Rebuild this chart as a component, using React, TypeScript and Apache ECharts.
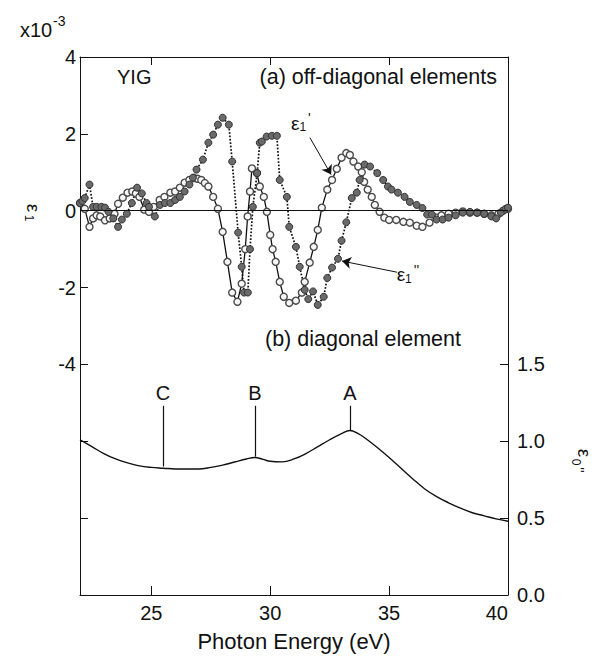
import React, { useEffect, useRef } from "react";
import * as echarts from "echarts";

// ---------- data ----------
const diagE = [22.0, 22.5, 23.0, 23.5, 24.0, 24.5, 25.0, 25.5, 26.0, 26.5, 27.0, 27.5, 28.0, 28.5, 29.0, 29.35, 29.7, 30.0, 30.5, 31.0, 31.5, 32.0, 32.5, 33.0, 33.35, 33.7, 34.0, 34.5, 35.0, 35.5, 36.0, 36.5, 37.0, 37.5, 38.0, 38.5, 39.0, 39.5, 40.0];
const diagV = [1.01, 0.965, 0.92, 0.885, 0.86, 0.84, 0.83, 0.825, 0.82, 0.82, 0.82, 0.83, 0.845, 0.865, 0.885, 0.895, 0.882, 0.87, 0.866, 0.885, 0.92, 0.965, 1.01, 1.05, 1.07, 1.05, 1.02, 0.96, 0.895, 0.825, 0.755, 0.69, 0.64, 0.6, 0.565, 0.535, 0.515, 0.495, 0.48];

const e1pE = [22.0, 22.2, 22.4, 22.55, 22.7, 22.85, 23.05, 23.25, 23.45, 23.6, 23.8, 24.0, 24.2, 24.35, 24.5, 24.7, 24.9, 25.1, 25.35, 25.55, 25.8, 26.0, 26.2, 26.4, 26.6, 26.8, 26.95, 27.1, 27.25, 27.4, 27.6, 27.8, 28.0, 28.2, 28.4, 28.62, 28.8, 28.95, 29.05, 29.15, 29.23, 29.44, 29.56, 29.73, 29.86, 30.0, 30.1, 30.23, 30.4, 30.57, 30.8, 31.08, 31.33, 31.45, 31.66, 31.83, 32.0, 32.17, 32.4, 32.6, 32.8, 33.0, 33.2, 33.35, 33.5, 33.7, 33.85, 33.95, 34.1, 34.27, 34.4, 34.6, 34.8, 35.0, 35.3, 35.6, 35.87, 36.16, 36.4, 36.7, 37.0, 37.2, 37.5, 37.8, 38.1, 38.4, 38.7, 39.0, 39.3, 39.6, 39.8, 40.0];
const e1pV = [0.2, 0.05, -0.42, -0.2, -0.12, -0.15, -0.25, -0.2, -0.08, 0.18, 0.34, 0.47, 0.5, 0.45, 0.36, 0.03, -0.03, 0.1, 0.28, 0.36, 0.47, 0.5, 0.6, 0.73, 0.8, 0.85, 0.83, 0.8, 0.72, 0.63, 0.36, 0.05, -0.55, -1.33, -2.13, -2.37, -1.9, -1.0, -0.15, 0.5, 1.1, 0.98, 0.63, 0.36, -0.03, -0.63, -1.0, -1.33, -1.85, -2.24, -2.4, -2.34, -2.13, -1.85, -1.35, -0.94, -0.5, 0.08, 0.55, 0.8, 1.09, 1.38, 1.5, 1.45, 1.28, 1.15, 1.0, 0.75, 0.55, 0.36, 0.15, -0.03, -0.18, -0.24, -0.24, -0.29, -0.31, -0.39, -0.42, -0.31, -0.18, -0.12, -0.08, -0.05, -0.02, -0.05, -0.05, -0.08, -0.12, -0.08, 0.0, 0.05];

const e1ppE = [22.0, 22.1, 22.2, 22.4, 22.55, 22.7, 22.9, 23.05, 23.2, 23.4, 23.6, 23.76, 23.97, 24.18, 24.4, 24.6, 24.8, 24.9, 25.15, 25.36, 25.57, 25.8, 26.0, 26.2, 26.4, 26.6, 26.75, 26.9, 27.17, 27.4, 27.6, 27.8, 28.0, 28.26, 28.4, 28.65, 28.8, 28.9, 29.06, 29.15, 29.27, 29.45, 29.56, 29.65, 29.85, 30.07, 30.28, 30.4, 30.7, 30.8, 31.08, 31.24, 31.45, 31.6, 31.8, 32.0, 32.25, 32.4, 32.6, 32.85, 33.0, 33.2, 33.43, 33.64, 33.76, 33.97, 34.2, 34.5, 34.75, 34.95, 35.1, 35.37, 35.65, 35.87, 36.16, 36.4, 36.6, 36.8, 37.0, 37.25, 37.5, 37.8, 38.1, 38.4, 38.7, 39.0, 39.3, 39.5, 39.7, 39.9, 40.0];
const e1ppV = [0.2, 0.25, 0.33, 0.68, 0.1, 0.1, 0.1, 0.08, -0.03, -0.2, -0.42, -0.23, -0.08, 0.2, 0.6, 0.45, 0.2, 0.1, -0.15, 0.15, 0.2, 0.2, 0.28, 0.36, 0.5, 0.68, 0.86, 1.07, 1.33, 1.77, 1.98, 2.24, 2.42, 2.24, 1.28, -0.57, -1.46, -2.13, -2.13, -1.0, 0.1, 0.98, 1.77, 1.8, 1.93, 1.95, 1.95, 0.8, 0.36, -0.42, -0.94, -1.46, -2.06, -2.3, -2.1, -2.45, -2.24, -1.75, -1.48, -1.25, -0.78, -0.3, 0.33, 0.47, 0.8, 1.2, 1.15, 0.98, 0.8, 0.63, 0.55, 0.47, 0.36, 0.23, 0.15, 0.07, -0.1, -0.1, -0.23, -0.23, -0.18, -0.12, -0.05, -0.03, -0.05, -0.08, -0.15, -0.2, -0.05, 0.05, 0.08];

const xLabelValues = [25, 30, 35, 40];
const xTickValues = [25, 30, 35];
const leftLabelValues = [-4, -2, 0, 2, 4];
const leftTickValues = [-8, -6, -4, -2, 0, 2];
const rightLabelValues = [0, 0.5, 1.0, 1.5];
const rightTickValues = [0.5, 1.0, 1.5];

const peakNames = ["C", "B", "A"];
const peakE = [25.49, 29.36, 33.35];
const peakBottom = [0.836, 0.9, 1.069];
const peakTop = 1.231;
const peakLabelY = 1.312;

// annotation anchors (data coordinates)
const e1pArrow = [[31.67, 1.9], [32.56, 0.94]];
const e1ppArrow = [[35.33, -1.6], [33.02, -1.31]];
const e1pLabelAt = [31.29, 2.27];
const e1ppLabelAt = [35.79, -1.67];

const zip = (a: number[], b: number[]) => a.map((v, i) => [v, b[i]]);

const FONT = '"Liberation Sans", Arial, Helvetica, sans-serif';
const INK = "#111";

export default function App() {
  const ref = useRef<HTMLDivElement>(null);
  useEffect(() => {
    document.body.style.margin = "0";
    if (!ref.current) return;
    const chart = echarts.init(ref.current, undefined, { renderer: "svg" });

    const epsRich = {
      e: { fontSize: 19, fontFamily: FONT, color: INK, lineHeight: 24, verticalAlign: "middle" },
      s: { fontSize: 12, fontFamily: FONT, color: INK, lineHeight: 24, verticalAlign: "bottom", padding: [0, 0, 2, 0] },
      p: { fontSize: 14, fontFamily: FONT, color: INK, lineHeight: 24, verticalAlign: "top", padding: [0, 0, 0, 2] },
    };

    const axisLineStyle = { color: INK, width: 1 };
    const option: any = {
      animation: false,
      grid: { left: 80, right: 94, top: 57, bottom: 60 },
      xAxis: [
        {
          type: "value", min: 22, max: 40, position: "bottom",
          name: "Photon Energy (eV)", nameLocation: "middle", nameGap: 35,
          nameTextStyle: { fontSize: 22, color: INK, fontFamily: FONT },
          axisLine: { show: true, onZero: false, lineStyle: axisLineStyle },
          axisTick: { show: true, inside: true, length: 9, customValues: xTickValues, lineStyle: axisLineStyle },
          axisLabel: { show: true, customValues: xLabelValues, fontSize: 20, margin: 8, color: INK, fontFamily: FONT, alignMaxLabel: "right" },
          splitLine: { show: false },
        },
        {
          type: "value", min: 22, max: 40, position: "top",
          axisLine: { show: true, onZero: false, lineStyle: axisLineStyle },
          axisTick: { show: true, inside: true, length: 8, customValues: xTickValues, lineStyle: axisLineStyle },
          axisLabel: { show: false },
          splitLine: { show: false },
        },
      ],
      yAxis: [
        {
          type: "value", min: -10, max: 4, position: "left",
          axisLine: { show: true, onZero: false, lineStyle: axisLineStyle },
          axisTick: { show: true, inside: true, length: 8, customValues: leftTickValues, lineStyle: axisLineStyle },
          axisLabel: { show: true, customValues: leftLabelValues, fontSize: 20, margin: 4, color: INK, fontFamily: FONT },
          splitLine: { show: false },
        },
        {
          type: "value", min: 0, max: 3.5, position: "right",
          axisLine: { show: true, onZero: false, lineStyle: axisLineStyle },
          axisTick: { show: true, inside: true, length: 8, customValues: rightTickValues, lineStyle: axisLineStyle },
          axisLabel: { show: true, customValues: rightLabelValues, fontSize: 20, margin: 9, color: INK, fontFamily: FONT, formatter: (v: number) => v.toFixed(1) },
          splitLine: { show: false },
        },
      ],
      series: [
        {
          name: "diag", type: "line", xAxisIndex: 0, yAxisIndex: 1,
          data: zip(diagE, diagV), smooth: 0.4, showSymbol: false, symbol: "none",
          lineStyle: { color: INK, width: 1.4 },
          markLine: {
            silent: true, symbol: ["none", "none"], animation: false,
            lineStyle: { color: INK, width: 1.2, type: "solid" },
            label: { show: false },
            data: peakE.map((e, i) => [{ coord: [e, peakTop] }, { coord: [e, peakBottom[i]] }]),
          },
          markPoint: {
            silent: true, symbol: "rect", symbolSize: 1, itemStyle: { color: "rgba(0,0,0,0)" },
            label: { show: true, position: "inside", fontSize: 20, color: INK, fontFamily: FONT, formatter: (p: any) => p.name },
            data: peakE.map((e, i) => ({ name: peakNames[i], coord: [e, peakLabelY] })),
          },
        },
        {
          name: "eps1p", type: "line", xAxisIndex: 0, yAxisIndex: 0,
          data: zip(e1pE, e1pV), symbol: "circle", symbolSize: 7,
          itemStyle: { color: "#f6f6f6", borderColor: "#4a4a4a", borderWidth: 1.4 },
          lineStyle: { color: INK, width: 1.3, type: "solid" },
          markLine: {
            silent: true, symbol: ["none", "none"], symbolSize: 9, animation: false,
            label: { show: false },
            lineStyle: { color: INK, width: 1, type: "solid" },
            data: [
              { yAxis: 0 },
              [{ coord: e1pArrow[0], symbol: "none" }, { coord: e1pArrow[1], symbol: "arrow" }],
            ],
          },
          markPoint: {
            silent: true, symbol: "rect", symbolSize: 1, itemStyle: { color: "rgba(0,0,0,0)" },
            label: { show: true, position: "inside", formatter: "{e|ε}{s|1}{p|'}", rich: epsRich },
            data: [{ name: "e1p", coord: e1pLabelAt }],
          },
        },
        {
          name: "eps1pp", type: "line", xAxisIndex: 0, yAxisIndex: 0,
          data: zip(e1ppE, e1ppV), symbol: "circle", symbolSize: 7,
          itemStyle: { color: "#6a6a6a", borderColor: "#333", borderWidth: 1 },
          lineStyle: { color: INK, width: 1.7, type: "dotted" },
          markLine: {
            silent: true, symbol: ["none", "arrow"], symbolSize: 9, animation: false,
            label: { show: false },
            lineStyle: { color: INK, width: 1, type: "solid" },
            data: [[{ coord: e1ppArrow[0] }, { coord: e1ppArrow[1] }]],
          },
          markPoint: {
            silent: true, symbol: "rect", symbolSize: 1, itemStyle: { color: "rgba(0,0,0,0)" },
            label: { show: true, position: "inside", formatter: "{e|ε}{s|1}{p|''}", rich: epsRich },
            data: [{ name: "e1pp", coord: e1ppLabelAt }],
          },
        },
      ],
      graphic: [
        { type: "text", x: 20, y: 30, style: { text: "x10", fontSize: 20, fontFamily: FONT, fill: INK, textVerticalAlign: "middle" } },
        { type: "text", x: 53, y: 21, style: { text: "-3", fontSize: 14, fontFamily: FONT, fill: INK, textVerticalAlign: "middle" } },
        { type: "text", x: 117, y: 77, style: { text: "YIG", fontSize: 20, fontFamily: FONT, fill: INK, textVerticalAlign: "middle" } },
        { type: "text", x: 497, y: 77, style: { text: "(a) off-diagonal elements", fontSize: 21.5, fontFamily: FONT, fill: INK, textAlign: "right", textVerticalAlign: "middle" } },
        { type: "text", x: 363, y: 339, style: { text: "(b) diagonal element", fontSize: 21.5, fontFamily: FONT, fill: INK, textAlign: "center", textVerticalAlign: "middle" } },
        {
          type: "group", x: 33, y: 212, rotation: -Math.PI / 2,
          children: [
            { type: "text", x: -4, y: 0, style: { text: "ε", fontSize: 19, fontFamily: FONT, fill: INK, textAlign: "center", textVerticalAlign: "middle" } },
            { type: "text", x: 6, y: 4, style: { text: "1", fontSize: 12, fontFamily: FONT, fill: INK, textAlign: "center", textVerticalAlign: "middle" } },
          ],
        },
        {
          type: "group", x: 584, y: 460, rotation: -Math.PI / 2,
          children: [
            { type: "text", x: -7, y: 0, style: { text: "ε", fontSize: 19, fontFamily: FONT, fill: INK, textAlign: "center", textVerticalAlign: "middle" } },
            { type: "text", x: 2, y: 8, style: { text: "0", fontSize: 12, fontFamily: FONT, fill: INK, textAlign: "center", textVerticalAlign: "middle" } },
            { type: "text", x: 10, y: 5, style: { text: "''", fontSize: 14, fontFamily: FONT, fill: INK, textAlign: "center", textVerticalAlign: "middle" } },
          ],
        },
      ],
    };
    chart.setOption(option);
    return () => chart.dispose();
  }, []);
  return <div ref={ref} style={{ width: 602, height: 657 }} />;
}
